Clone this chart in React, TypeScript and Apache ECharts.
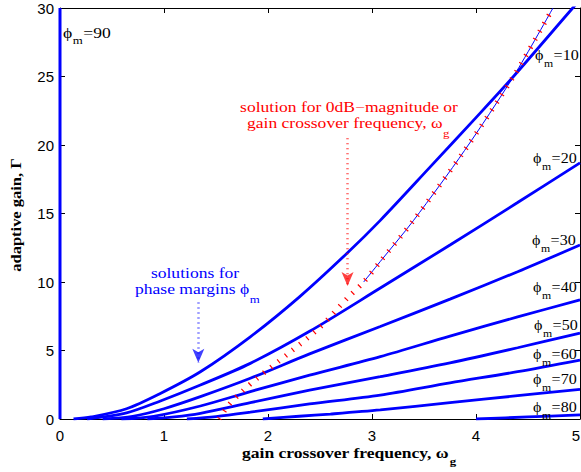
import React, { useEffect, useRef } from "react";
import * as echarts from "echarts";

// ---- data ----
const xTicks = [0, 1, 2, 3, 4, 5];
const yTicks = [0, 5, 10, 15, 20, 25, 30];

const omega10 = [0.13, 0.3, 0.64, 0.96, 1.35, 1.83, 2.3, 2.76, 3.08, 3.56, 4.0, 4.36, 4.93, 5.0];
const gamma10 = [0, 0.15, 0.75, 1.85, 3.45, 6.0, 8.9, 12.1, 14.5, 18.4, 22.0, 25.0, 30.0, 30.6];

const omega20 = [0.26, 0.64, 0.96, 1.35, 1.83, 2.4, 3.08, 3.75, 4.4, 5.0];
const gamma20 = [0, 0.45, 1.3, 2.48, 4.06, 6.4, 9.56, 12.7, 15.8, 18.7];

const omega30 = [0.41, 0.7, 1.0, 1.35, 1.83, 2.4, 3.08, 3.75, 4.4, 5.0];
const gamma30 = [0, 0.2, 0.75, 1.63, 2.97, 4.75, 6.75, 8.75, 10.75, 12.7];

const omega40 = [0.59, 0.9, 1.35, 1.83, 2.4, 3.08, 3.75, 4.4, 5.0];
const gamma40 = [0, 0.2, 0.95, 2.0, 3.2, 4.55, 6.05, 7.45, 8.7];

const omega50 = [0.84, 1.1, 1.35, 1.83, 2.4, 3.08, 3.75, 4.4, 5.0];
const gamma50 = [0, 0.15, 0.41, 1.19, 2.1, 3.09, 4.1, 5.2, 6.27];

const omega60 = [1.22, 1.5, 1.83, 2.4, 3.08, 3.75, 4.4, 5.0];
const gamma60 = [0, 0.18, 0.5, 1.1, 1.75, 2.64, 3.45, 4.3];

const omega70 = [1.95, 2.3, 2.6, 3.08, 3.75, 4.4, 5.0];
const gamma70 = [0, 0.2, 0.36, 0.66, 1.19, 1.7, 2.17];

const omega80 = [4.0, 4.5, 5.0];
const gamma80 = [0, 0.15, 0.3];

const omega90 = [0, 0];
const gamma90 = [0, 30];

// 0 dB magnitude (gain crossover) solution
const omegaMag = [1.53, 1.62, 1.75, 1.9, 2.2, 2.5, 2.76, 2.92, 3.08, 3.4, 3.89, 4.36, 4.74];
const gammaMag = [0, 1.0, 2.0, 3.0, 4.8, 6.7, 8.8, 10.0, 11.5, 14.5, 19.6, 25.0, 30.0];
// thin blue line part of that solution
const omegaMagLine = [2.92, 3.08, 3.4, 3.89, 4.36, 4.74];
const gammaMagLine = [10.0, 11.5, 14.5, 19.6, 25.0, 30.0];

// annotation arrows (x, yStart, yEnd)
const blueArrow = [1.33, 8.5, 4.1];
const redArrow = [2.765, 20.5, 9.7];

// phase-margin labels
const pmLabels = ["90", "10", "20", "30", "40", "50", "60", "70", "80"];

const SERIF = '"Liberation Serif", "Times New Roman", serif';
const SANS = '"Liberation Sans", Arial, sans-serif';
const BLUE = "#0000ff";
const RED = "#ff0000";
const PHI = "\u03d5";
const SX = 1.17; // horizontal stretch of the reference's texts

function measure(text: string, font: string): number {
  const c = document.createElement("canvas");
  const ctx = c.getContext("2d");
  if (!ctx) return text.length * 7;
  ctx.font = font;
  return ctx.measureText(text).width;
}

function zip(a: number[], b: number[]) {
  return a.map((x, i) => [x, b[i]]);
}

export default function App() {
  const ref = useRef<HTMLDivElement>(null);

  useEffect(() => {
    if (!ref.current) return;
    const chart = echarts.init(ref.current, null, { renderer: "svg", width: 581, height: 472 });

    const curves = [
      zip(omega10, gamma10),
      zip(omega20, gamma20),
      zip(omega30, gamma30),
      zip(omega40, gamma40),
      zip(omega50, gamma50),
      zip(omega60, gamma60),
      zip(omega70, gamma70),
      zip(omega80, gamma80),
    ];

    const series: any[] = curves.map((d) => ({
      type: "line",
      data: d,
      showSymbol: false,
      smooth: 0.3,
      silent: true,
      lineStyle: { color: BLUE, width: 2.8 },
      z: 3,
    }));

    series.push({
      type: "line",
      data: zip(omega90, gamma90),
      showSymbol: false,
      clip: false,
      silent: true,
      lineStyle: { color: BLUE, width: 3 },
      z: 3,
    });

    series.push({
      type: "line",
      data: zip(omegaMagLine, gammaMagLine),
      showSymbol: false,
      smooth: 0.3,
      silent: true,
      lineStyle: { color: BLUE, width: 1 },
      z: 4,
    });

    series.push({
      type: "line",
      data: zip(omegaMag, gammaMag),
      showSymbol: false,
      smooth: 0.3,
      silent: true,
      lineStyle: { color: RED, width: 5, type: [1.2, 8], cap: "butt" },
      z: 5,
    });

    const arrowSeries = (arr: number[], color: string) => ({
      type: "line",
      data: [],
      silent: true,
      itemStyle: { color },
      markLine: {
        silent: true,
        symbol: ["none", "arrow"],
        symbolSize: [9, 14],
        label: { show: false },
        lineStyle: { color, width: 2.5, type: [1, 4], opacity: 0.75 },
        itemStyle: { color },
        data: [[{ coord: [arr[0], arr[1]] }, { coord: [arr[0], arr[2]] }]],
      },
    });
    series.push(arrowSeries(blueArrow, BLUE));
    series.push(arrowSeries(redArrow, RED));

    // ---- text annotations ----
    const fMain = `15px ${SERIF}`;
    const fSub = `11px ${SERIF}`;
    const graphics: any[] = [];
    const txt = (x: number, y: number, text: string, font: string, fill: string, align = "left", sx = SX) => {
      graphics.push({
        type: "text",
        x,
        y,
        scaleX: sx,
        silent: true,
        z: 100,
        style: { text, font, fill, align, verticalAlign: "middle" },
      });
    };
    // main text followed by a subscript (and optional rest)
    const withSub = (
      x: number,
      yc: number,
      main: string,
      sub: string,
      font: string,
      subFont: string,
      fill: string,
      subDy: number,
      rest?: string,
      sx = SX
    ) => {
      txt(x, yc, main, font, fill, "left", sx);
      const w = measure(main, font) * sx;
      txt(x + w + 0.5, yc + subDy, sub, subFont, fill, "left", sx);
      if (rest) {
        const ws = measure(sub, subFont) * sx;
        txt(x + w + ws + 1, yc, rest, font, fill, "left", sx);
      }
    };

    const pmPos: number[][] = [
      [63, 32.5],
      [535, 55],
      [533, 158],
      [532, 240],
      [533, 287],
      [534, 325],
      [533, 354],
      [533, 379],
      [533, 407],
    ];
    pmLabels.forEach((lab, i) => {
      withSub(pmPos[i][0], pmPos[i][1], PHI, "m", fMain, fSub, "#000", 8, "=" + lab, i === 0 ? SX : 1.07);
    });

    // blue annotation
    txt(195, 273, "solutions for", fMain, BLUE, "center");
    withSub(135, 289, "phase margins " + PHI, "m", fMain, fSub, BLUE, 10);

    // red annotation
    txt(349, 107, "solution for 0dB\u2212magnitude or", fMain, RED, "center");
    withSub(247, 123, "gain crossover frequency, \u03c9", "g", fMain, fSub, RED, 10);

    // axis titles
    const fb = `bold 15px ${SERIF}`;
    const fbs = `bold 11px ${SERIF}`;
    withSub(242, 453, "gain crossover frequency, \u03c9", "g", fb, fbs, "#000", 8);
    graphics.push({
      type: "text",
      x: 16,
      y: 215,
      rotation: Math.PI / 2,
      scaleX: 1.1,
      silent: true,
      style: {
        text: "adaptive gain, \u0393",
        font: fb,
        fill: "#000",
        align: "center",
        verticalAlign: "middle",
      },
    });

    const axisCommon = {
      type: "value",
      min: 0,
      splitLine: { show: false },
      axisLine: { show: true, onZero: false, lineStyle: { color: "#000", width: 1 } },
      axisTick: { show: true, inside: true, length: 5, lineStyle: { color: "#000", width: 1 } },
    };

    const option: any = {
      animation: false,
      backgroundColor: "#fff",
      grid: { left: 60, right: 1, top: 8, bottom: 53, containLabel: false, outerBoundsMode: "none" },
      xAxis: [
        {
          ...axisCommon,
          max: xTicks[xTicks.length - 1],
          interval: xTicks[1] - xTicks[0],
          position: "bottom",
          axisLabel: {
            show: true,
            margin: 9,
            fontFamily: SANS,
            fontSize: 15,
            color: "#000",
            alignMaxLabel: "right",
          },
        },
        {
          ...axisCommon,
          max: xTicks[xTicks.length - 1],
          interval: xTicks[1] - xTicks[0],
          position: "top",
          axisLabel: { show: false },
        },
      ],
      yAxis: [
        {
          ...axisCommon,
          max: yTicks[yTicks.length - 1],
          interval: yTicks[1] - yTicks[0],
          position: "left",
          axisLabel: { show: true, margin: 6, fontFamily: SANS, fontSize: 15, color: "#000" },
        },
        {
          ...axisCommon,
          max: yTicks[yTicks.length - 1],
          interval: yTicks[1] - yTicks[0],
          position: "right",
          axisLabel: { show: false },
        },
      ],
      series,
      graphic: graphics,
    };

    chart.setOption(option);
    return () => chart.dispose();
  }, []);

  return (
    <div
      ref={ref}
      style={{ position: "fixed", left: 0, top: 0, width: 581, height: 472, background: "#fff" }}
    />
  );
}
